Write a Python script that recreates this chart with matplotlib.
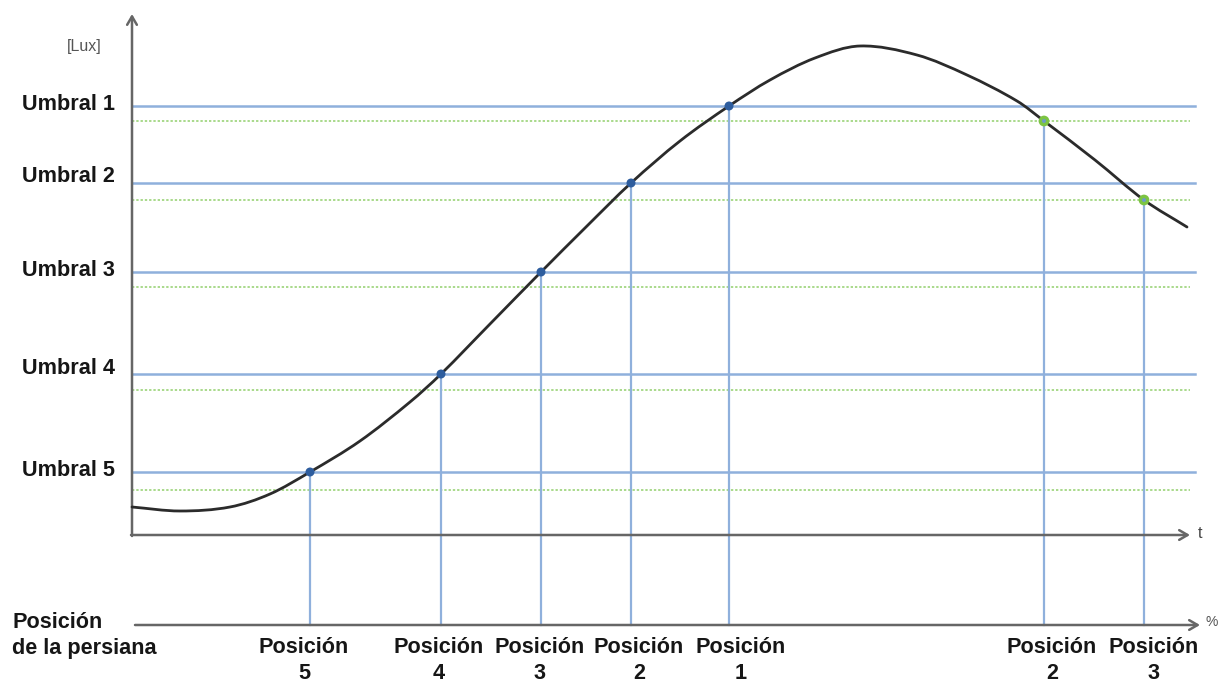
import matplotlib
matplotlib.use('Agg')
import matplotlib.pyplot as plt
from matplotlib.path import Path
from matplotlib.patches import PathPatch

# ---------------- data (t in arbitrary time units, light level in arbitrary lux units)
curve_t = [0.00, 0.48, 0.98, 1.38, 1.78, 2.28, 2.78, 3.09, 3.58, 4.09, 4.54, 4.99,
           5.48, 5.97, 6.38, 6.83, 7.28, 7.85, 8.35, 8.85, 9.12, 9.63, 10.12, 10.55]
curve_lux = [0.28, 0.24, 0.28, 0.41, 0.63, 0.94, 1.33, 1.61, 2.11, 2.63, 3.08, 3.52,
             3.94, 4.29, 4.55, 4.77, 4.89, 4.80, 4.60, 4.34, 4.14, 3.75, 3.35, 3.08]

umbral_labels = ['Umbral 1', 'Umbral 2', 'Umbral 3', 'Umbral 4', 'Umbral 5']
umbral_lux = [4.29, 3.52, 2.63, 1.61, 0.63]
hyst_lux = [4.14, 3.35, 2.48, 1.45, 0.45]

rise_t = [5.97, 4.99, 4.09, 3.09, 1.78]          # crossing times of Umbral 1..5 (rising)
rise_lux = umbral_lux
rise_labels = ['Posición\n1', 'Posición\n2', 'Posición\n3', 'Posición\n4', 'Posición\n5']

fall_t = [9.12, 10.12]                            # crossing times on falling side
fall_lux = [4.14, 3.35]
fall_labels = ['Posición\n2', 'Posición\n3']

# ---------------- layout / style
T_MAX_LINE = 10.63
T_AXIS_END = 10.58
LUX_AXIS_TOP = 5.21
POS_AXIS = -0.90
POS_AXIS_END = 10.68
rise_label_dx = [0.12, 0.08, -0.01, -0.02, -0.06]
fall_label_dx = [0.08, 0.10]

BLUE_LINE = '#8FB0DC'
BLUE_DOT = '#2E5D9E'
GREEN_LINE = '#A9D98B'
GREEN_DOT = '#7CC443'
AXIS_COL = '#666666'
TXT = '#161616'
FONT = ['Liberation Sans', 'DejaVu Sans']
FS = 15.6

fig = plt.figure(figsize=(12.22, 6.82), dpi=100)
ax = fig.add_axes([0, 0, 1, 1])
ax.set_xlim(-1.32, 10.90)
ax.set_ylim(-1.47, 5.35)
ax.axis('off')

# threshold lines
for ul, hl in zip(umbral_lux, hyst_lux):
    ax.plot([0, T_MAX_LINE], [ul, ul], color=BLUE_LINE, lw=1.8, zorder=2)
    ax.plot([0, T_MAX_LINE - 0.05], [hl, hl], color=GREEN_LINE, lw=1.4,
            linestyle=(0, (1.2, 1.0)), zorder=2)

# vertical drop lines
for t, l in zip(rise_t + fall_t, rise_lux + fall_lux):
    ax.plot([t, t], [l, POS_AXIS], color=BLUE_LINE, lw=1.6, zorder=2)

# smooth curve through the read points (cubic Hermite -> Bezier segments)
n = len(curve_t)
slopes = []
for i in range(n):
    a = max(i - 1, 0)
    b = min(i + 1, n - 1)
    slopes.append((curve_lux[b] - curve_lux[a]) / (curve_t[b] - curve_t[a]))
verts = [(curve_t[0], curve_lux[0])]
codes = [Path.MOVETO]
for i in range(n - 1):
    h = curve_t[i + 1] - curve_t[i]
    c1 = (curve_t[i] + h / 3, curve_lux[i] + slopes[i] * h / 3)
    c2 = (curve_t[i + 1] - h / 3, curve_lux[i + 1] - slopes[i + 1] * h / 3)
    verts += [c1, c2, (curve_t[i + 1], curve_lux[i + 1])]
    codes += [Path.CURVE4] * 3
ax.add_patch(PathPatch(Path(verts, codes), facecolor='none', edgecolor='#2B2B2B',
                       lw=2.0, zorder=4, capstyle='round'))

# markers
ax.scatter(rise_t, rise_lux, s=42, color=BLUE_DOT, zorder=5, edgecolors='none')
ax.scatter(fall_t, fall_lux, s=60, color=GREEN_DOT, zorder=5, edgecolors='none')
ax.scatter(fall_t, fall_lux, s=8, color='#6C9AC8', zorder=6, edgecolors='none')

# axes with open arrows
arrow = dict(arrowstyle='->,head_length=0.6,head_width=0.35', color=AXIS_COL, lw=1.8,
             shrinkA=0, shrinkB=0)
ax.annotate('', xy=(0, LUX_AXIS_TOP), xytext=(0, -0.01), arrowprops=arrow, zorder=3)
ax.annotate('', xy=(T_AXIS_END, 0), xytext=(-0.01, 0), arrowprops=arrow, zorder=3)
ax.annotate('', xy=(POS_AXIS_END, POS_AXIS), xytext=(0.03, POS_AXIS), arrowprops=arrow, zorder=3)

ax.text(T_AXIS_END + 0.08, 0.02, 't', fontsize=11.5, color='#444444', family=FONT,
        ha='left', va='center')
ax.text(POS_AXIS_END + 0.06, POS_AXIS + 0.03, '%', fontsize=10, color='#555555', family=FONT,
        ha='left', va='center')
ax.text(-0.48, 4.88, '[Lux]', fontsize=11.5, color='#555555', family=FONT,
        ha='center', va='center')

label_y = [4.30, 3.59, 2.65, 1.66, 0.65]
for lab, y in zip(umbral_labels, label_y):
    ax.text(-0.17, y, lab, fontsize=FS, fontweight='bold', color=TXT, family=FONT,
            ha='right', va='center')

ax.text(-1.20, -0.77, 'Posición\nde la persiana', fontsize=FS, fontweight='bold', color=TXT,
        family=FONT, ha='left', va='top', linespacing=1.34)

for t, dx, lab in zip(rise_t + fall_t, rise_label_dx + fall_label_dx, rise_labels + fall_labels):
    ax.text(t + dx, -1.02, lab, fontsize=FS, fontweight='bold', color=TXT, family=FONT,
            ha='center', va='top', linespacing=1.33)

fig.savefig('out.png', dpi=100)
